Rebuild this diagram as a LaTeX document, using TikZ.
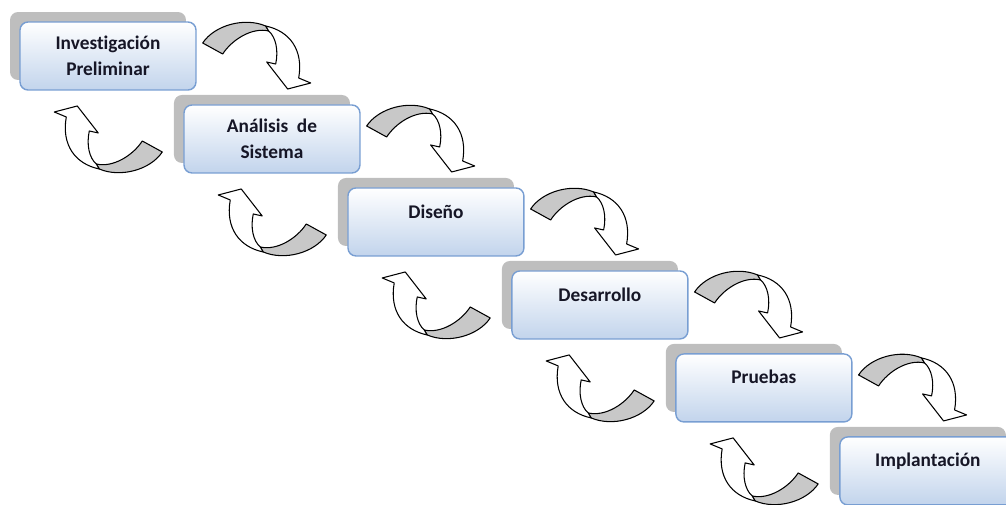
\documentclass[tikz,border=0pt]{standalone}
\usepackage{fontspec}
\setmainfont{Carlito}[Ligatures=NoCommon]
\usetikzlibrary{positioning,calc,shadows}
\definecolor{boxline}{RGB}{120,158,210}
\definecolor{boxfill}{RGB}{194,212,236}
\definecolor{boxshade}{RGB}{190,190,190}
\definecolor{turnfill}{RGB}{200,200,200}
\definecolor{stagetext}{RGB}{22,22,38}
\tikzset{
  stage/.style={rectangle,rounded corners=0.16cm,draw=boxline,line width=0.8pt,
    top color=white,bottom color=boxfill,minimum width=3.52cm,minimum height=1.36cm,
    align=center,text=stagetext,font=\bfseries\fontsize{11}{15}\selectfont,
    general shadow={draw=none,fill=boxshade,shadow xshift=-0.2cm,shadow yshift=0.2cm}},
  stage1/.style={stage,text height=8pt,text depth=12.5pt},
  turn/.pic={
    \draw[line width=0.6pt,line join=round,fill=turnfill]
      (-54,-12) .. controls (-42,-30) and (-12,-38) .. (9,-29) -- (12,-24)
      .. controls (-5,-28) and (-25,-15) .. (-34,-1) -- cycle;
    \draw[line width=0.6pt,line join=round,fill=white]
      (9,-29) .. controls (33,-24) and (47,-5) .. (42,23) -- (54,28) -- (31,34)
      -- (10,7) -- (19,9) .. controls (22,-5) and (19,-18) .. (12,-24) -- cycle;
  }
}
\begin{document}
\begin{tikzpicture}[x=0.02cm,y=-0.02cm,node distance=1.66cm and 3.28cm,on grid]
\useasboundingbox (0,0) rectangle (1006,504);

\node[stage](s1) at (108,56){Investigación\\Preliminar};
\node[stage](s2)[below right=of s1]{Análisis~~de\\Sistema};
\node[stage1](s3)[below right=of s2]{Diseño};
\node[stage1](s4)[below right=of s3]{Desarrollo};
\node[stage1](s5)[below right=of s4]{Pruebas};
\node[stage1](s6)[below right=of s5]{Implantación};

\pic at ($(s1.east)+(60,-1)$) {turn};
\pic at ($(s2.east)+(60,-1)$) {turn};
\pic at ($(s3.east)+(60,-1)$) {turn};
\pic at ($(s4.east)+(60,-1)$) {turn};
\pic at ($(s5.east)+(60,-1)$) {turn};

\pic[rotate=180] at ($(s2.west)+(-75,1)$) {turn};
\pic[rotate=180] at ($(s3.west)+(-75,1)$) {turn};
\pic[rotate=180] at ($(s4.west)+(-75,1)$) {turn};
\pic[rotate=180] at ($(s5.west)+(-75,1)$) {turn};
\pic[rotate=180] at ($(s6.west)+(-75,1)$) {turn};

\end{tikzpicture}
\end{document}
